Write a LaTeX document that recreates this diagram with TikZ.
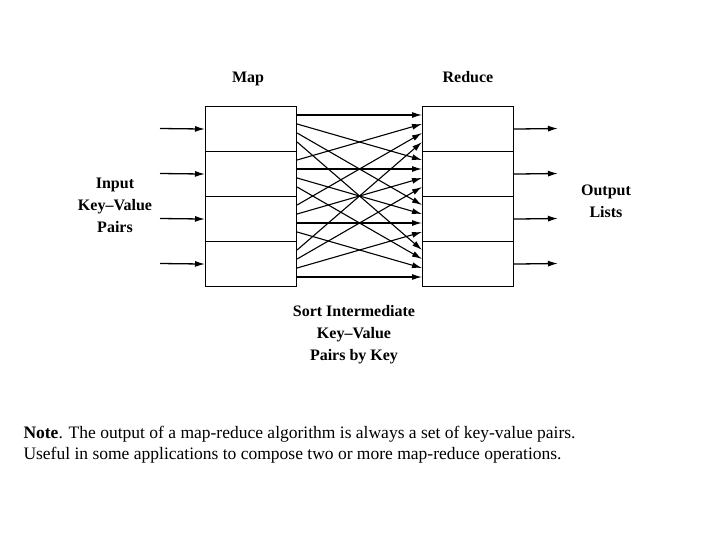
\documentclass[tikz,border=0pt]{standalone}
\usepackage{fontspec}
\setmainfont{Liberation Serif}
\usetikzlibrary{arrows.meta}
\begin{document}
\begin{tikzpicture}[x=1pt,y=-1pt,
  box/.style={draw,line width=1.1pt,minimum width=91pt,minimum height=45pt,inner sep=0,anchor=north west},
  arr/.style={-{Latex[length=10pt,width=6pt]},line width=1.3pt},
  lab/.style={font=\bfseries\fontsize{16}{22}\selectfont,align=center}]
\useasboundingbox (0,0) rectangle (720,540);
\foreach \i in {0,...,3}{
  \node[box] (m\i) at (205,{106+45*\i}) {};
  \node[box] (r\i) at (422,{106+45*\i}) {};
  \coordinate (in\i) at (160,{128.5+45*\i});
  \coordinate (out\i) at (558,{128.5+45*\i});
  \draw[arr] (in\i) -- (m\i.west);
  \draw[arr] (r\i.east) -- (out\i);
}
\foreach \i in {0,...,3}{\foreach \j in {0,...,3}{
  \draw[arr,line width=1.1pt] ([yshift={-(9+9*\j)}]m\i.north east) -- ([yshift={-(9+9*\i)}]r\j.north west);
}}
\node[lab,anchor=base] (map) at (248,83) {Map};
\node[lab,anchor=base] (red) at (468,83) {Reduce};
\node[lab] (inp) at (115,205) {Input\\Key--Value\\Pairs};
\node[lab] (outl) at (606,201) {Output\\Lists};
\node[lab] (sort) at (354,335) {Sort Intermediate\\Key--Value\\Pairs by Key};
\node[anchor=west,align=left,font=\fontsize{17.5}{21}\selectfont] (note) at (20,445)
 {\textbf{Note}. The output of a map-reduce algorithm is always a set of key-value pairs.\\Useful in some applications to compose two or more map-reduce operations.};
\end{tikzpicture}
\end{document}
